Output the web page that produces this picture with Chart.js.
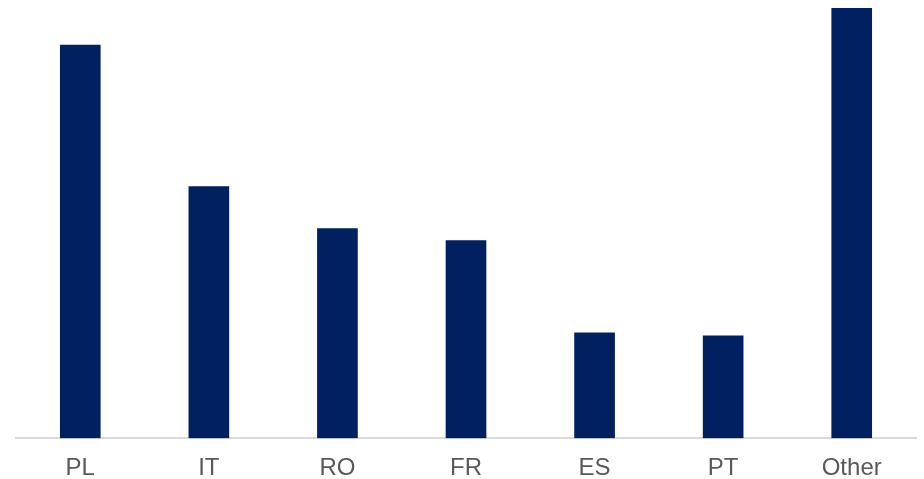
<!DOCTYPE html>
<html>
<head>
<meta charset="utf-8">
<script src="https://cdn.jsdelivr.net/npm/chart.js@4/dist/chart.umd.min.js"></script>
<style>
  html, body { margin: 0; padding: 0; background: #ffffff; overflow: hidden; }
  canvas { display: block; }
</style>
</head>
<body>
<canvas id="chart" width="924" height="479"></canvas>
<script>
// categories and values (no axis scale shown)
var categories = ["PL", "IT", "RO", "FR", "ES", "PT", "Other"];
var values = [392, 251, 209, 197, 105, 102, 429];
var yMax = 429;

var barColor = "#002060";

new Chart(document.getElementById("chart"), {
    type: "bar",
    data: {
        labels: categories,
        datasets: [{
            data: values,
            backgroundColor: barColor,
            borderWidth: 0,
            barThickness: 40
        }]
    },
    options: {
        responsive: false,
        animation: false,
        layout: {
            padding: { top: 8, left: 16, right: 8, bottom: -20 }
        },
        plugins: {
            legend: { display: false },
            tooltip: { enabled: false }
        },
        scales: {
            x: {
                grid: { display: false, drawTicks: false, tickLength: 0 },
                border: { color: "#d9d9d9", width: 2 },
                ticks: {
                    color: "#595959",
                    padding: 16,
                    font: { family: "'Liberation Sans', Arial, sans-serif", size: 24 }
                }
            },
            y: {
                display: false,
                min: 0,
                max: yMax
            }
        }
    }
});
</script>
</body>
</html>
